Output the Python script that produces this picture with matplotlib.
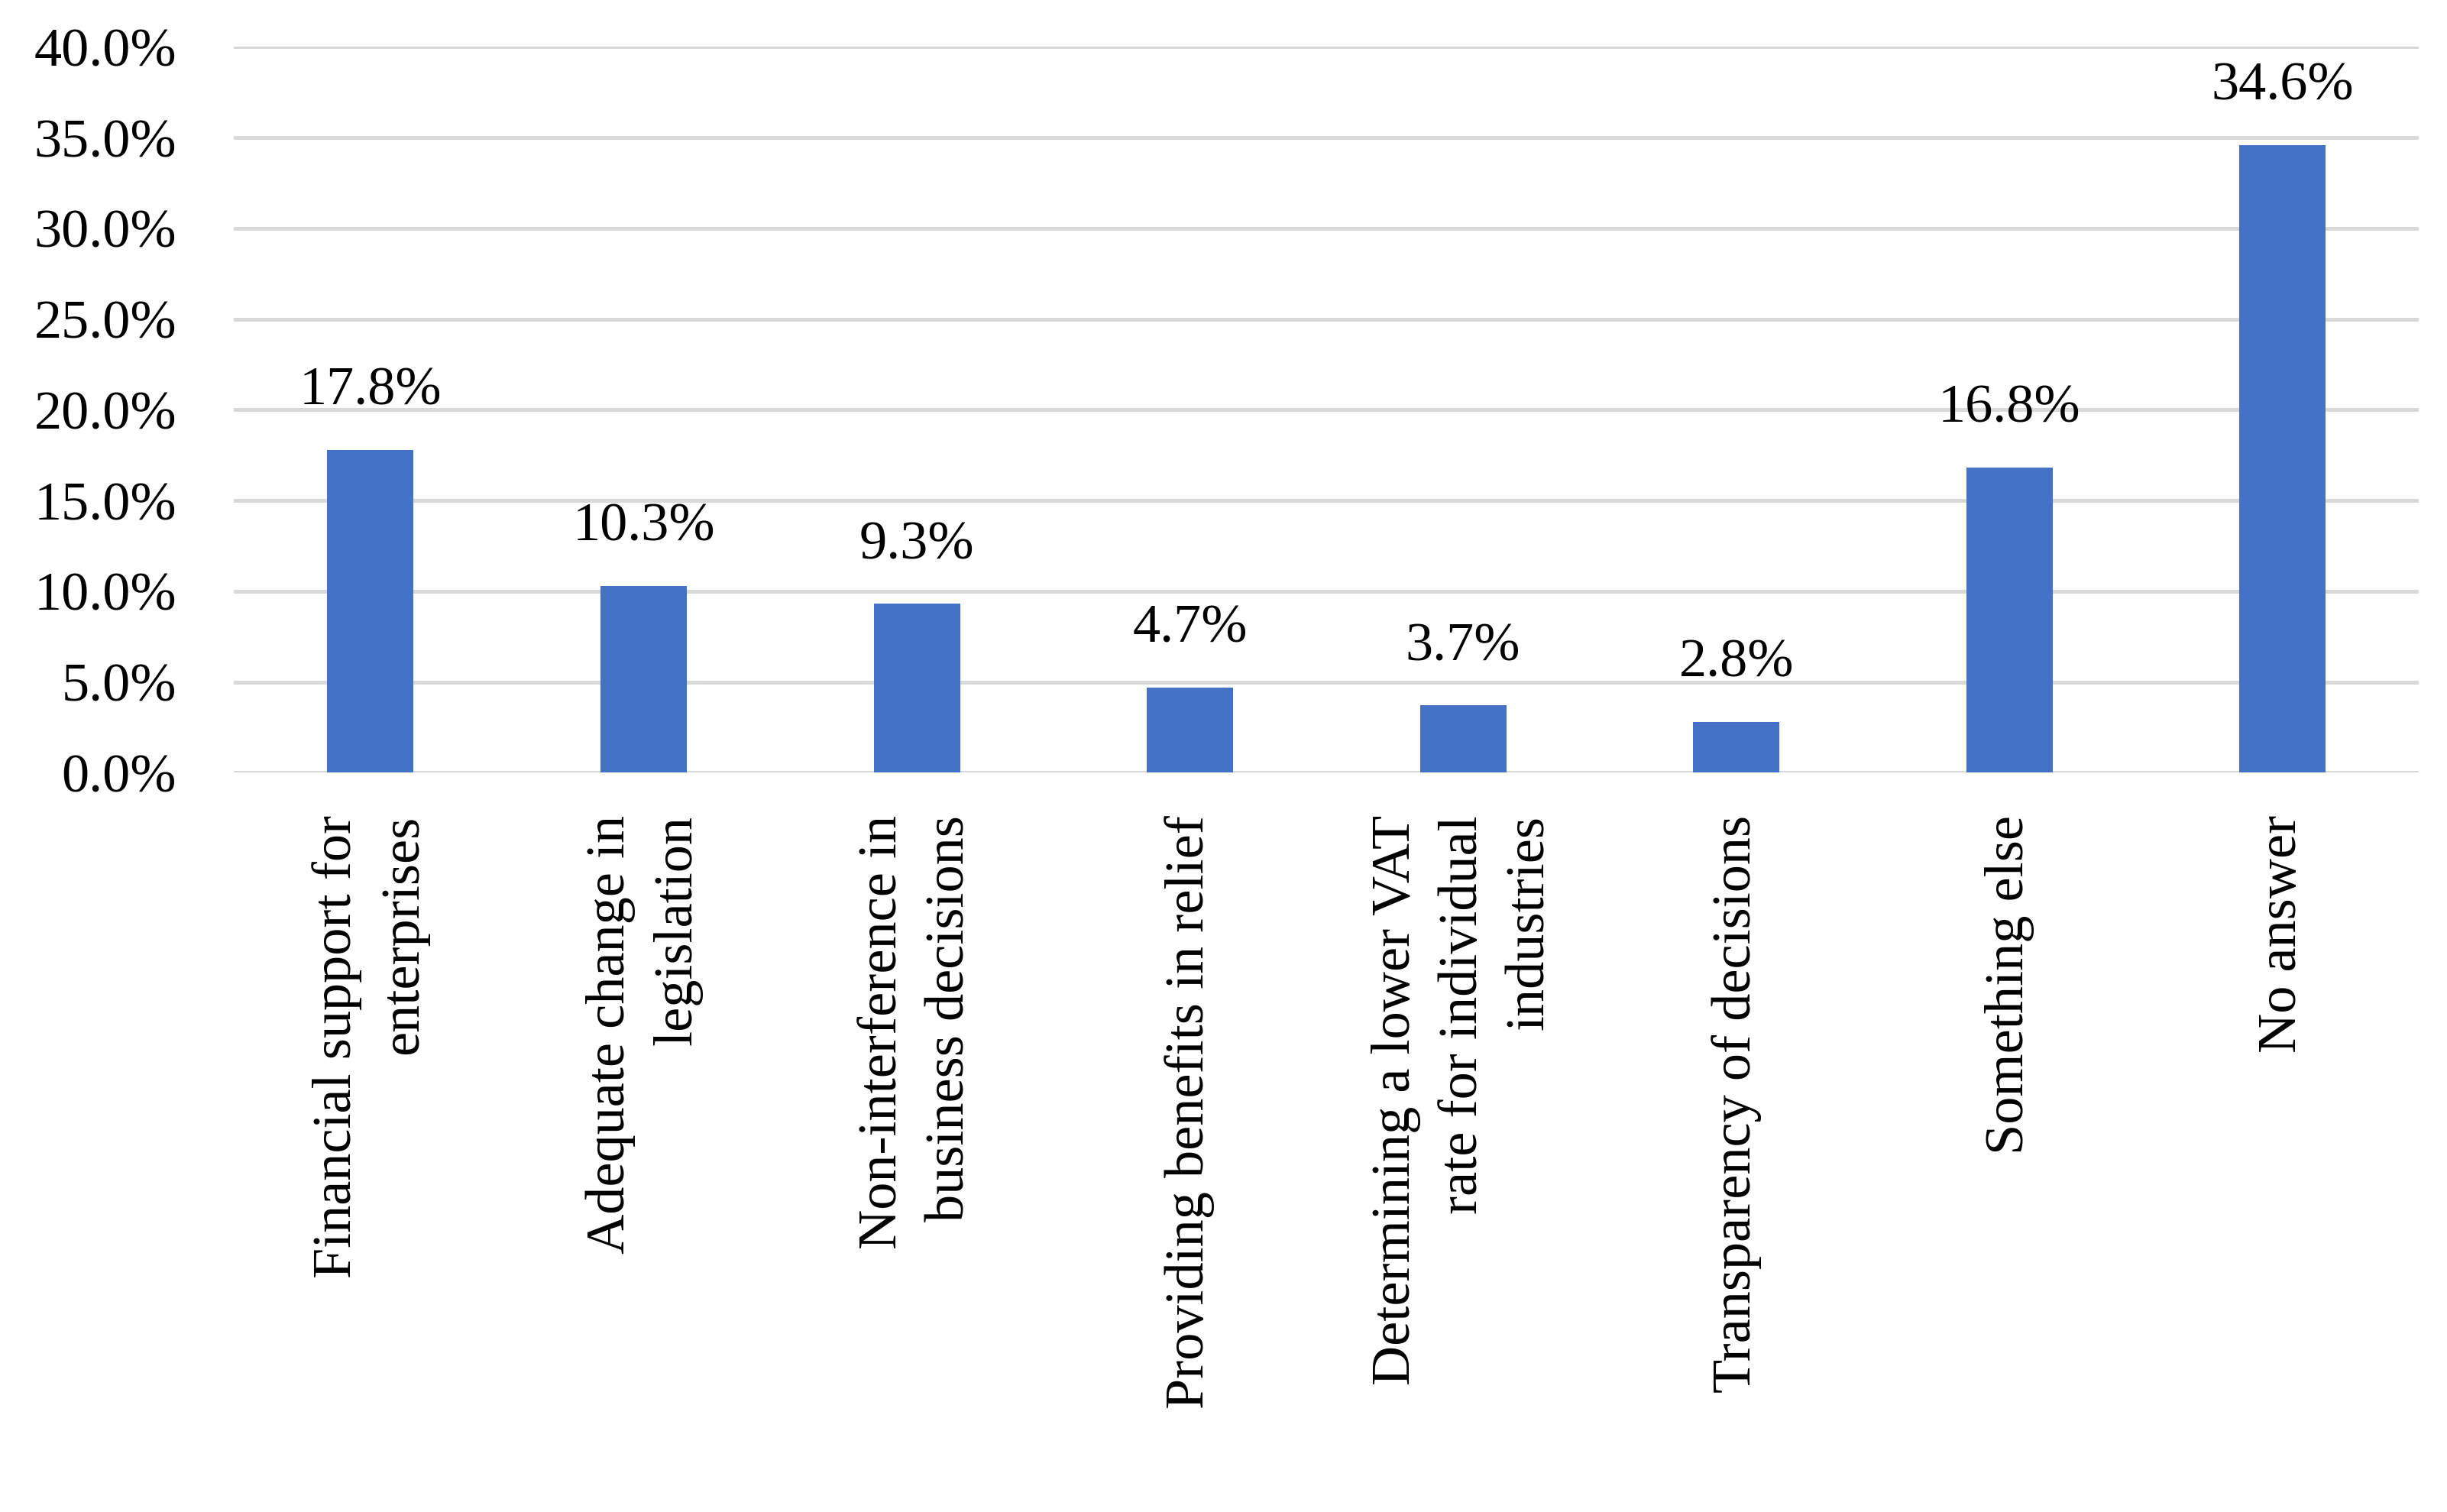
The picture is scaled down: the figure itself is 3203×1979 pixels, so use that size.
import matplotlib
matplotlib.use('Agg')
import matplotlib.pyplot as plt
from matplotlib.ticker import FuncFormatter

plt.rcParams['font.family'] = ['Liberation Serif', 'DejaVu Serif']

categories = ['Financial support for\nenterprises',
              'Adequate change in\nlegislation',
              'Non-interference in\nbusiness decisions',
              'Providing benefits in relief',
              'Determining a lower VAT\nrate for individual\nindustries',
              'Transparency of decisions',
              'Something else',
              'No answer']
values = [17.8, 10.3, 9.3, 4.7, 3.7, 2.8, 16.8, 34.6]

fig = plt.figure(figsize=(16.015, 9.895), dpi=200)
ax = fig.add_axes([0.0956, 0.489, 0.893, 0.48])

x = list(range(len(values)))
bars = ax.bar(x, values, width=0.316, color='#4472C4', zorder=3)
for xi, v in zip(x, values):
    ax.text(xi, v + 2.5, '{:.1f}%'.format(v), ha='center', va='baseline', fontsize=26)

ax.set_xlim(-0.5, len(values) - 0.5)
ax.set_ylim(0, 40)
ax.set_yticks([0, 5, 10, 15, 20, 25, 30, 35, 40])
ax.yaxis.set_major_formatter(FuncFormatter(lambda v, p: '{:.1f}%'.format(v)))
ax.grid(axis='y', color='#D9D9D9', linewidth=1.8, zorder=0)
for s in ax.spines.values():
    s.set_visible(False)
ax.tick_params(axis='both', length=0, labelsize=26)
ax.tick_params(axis='y', pad=27)
ax.set_xticks(x)
ax.set_xticklabels(categories, rotation=90, ha='center', va='top',
                   multialignment='right', linespacing=1.45)
ax.tick_params(axis='x', pad=20)

fig.savefig('out.png', dpi=200)
